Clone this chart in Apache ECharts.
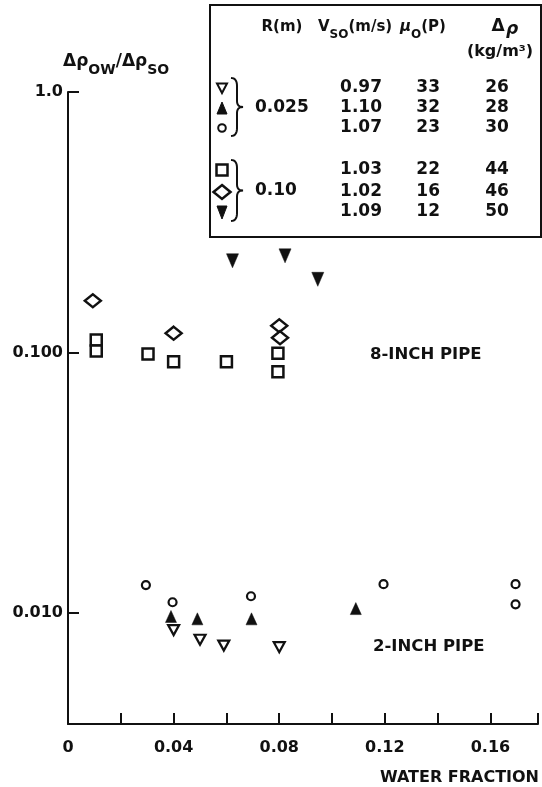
<!DOCTYPE html>
<html>
<head>
<meta charset="utf-8">
<script src="https://cdn.jsdelivr.net/npm/echarts@6/dist/echarts.min.js"></script>
<style>
  html, body { margin: 0; padding: 0; background: #fff; }
  #chart { width: 542px; height: 787px; }
</style>
</head>
<body>
<div id="chart"></div>
<script>
// ---- data ----
// R = 0.025 m (2-inch pipe)
const hollowDownX = [0.040, 0.050, 0.059, 0.080];
const hollowDownY = [0.0086, 0.0079, 0.0075, 0.0074];
const filledUpX = [0.039, 0.049, 0.0695, 0.109];
const filledUpY = [0.0097, 0.0095, 0.0095, 0.0104];
const circleX = [0.0295, 0.0396, 0.0693, 0.1195, 0.1695, 0.1695];
const circleY = [0.0128, 0.0110, 0.0116, 0.0129, 0.0129, 0.0108];
// R = 0.10 m (8-inch pipe)
const squareX = [0.0107, 0.0107, 0.0303, 0.040, 0.060, 0.0795, 0.0795];
const squareY = [0.1117, 0.1013, 0.0987, 0.0922, 0.0922, 0.0993, 0.0844];
const diamondX = [0.0094, 0.040, 0.080, 0.0803];
const diamondY = [0.158, 0.1186, 0.1267, 0.114];
const filledDownX = [0.0623, 0.0822, 0.0946];
const filledDownY = [0.225, 0.235, 0.191];

// legend table
const tableR = ['0.025', '0.10'];
const tableV = ['0.97', '1.10', '1.07', '1.03', '1.02', '1.09'];
const tableMu = ['33', '32', '23', '22', '16', '12'];
const tableRho = ['26', '28', '30', '44', '46', '50'];

// axes
const xTickLabels = ['0', '0.04', '0.08', '0.12', '0.16'];
const yTickValues = [0.01, 0.1, 1];
const yTickLabels = ['0.010', '0.100', '1.0'];

const FONT = '"DejaVu Sans", sans-serif';
const INK = '#111';

function pairs(xs, ys) { return xs.map((x, i) => [x, ys[i]]); }

const chart = echarts.init(document.getElementById('chart'), null, { renderer: 'canvas' });

const measureCtx = document.createElement('canvas').getContext('2d');
function textWidth(t, size, weight) {
  measureCtx.font = (weight || 'bold') + ' ' + size + 'px ' + FONT;
  return measureCtx.measureText(t).width;
}
function txt(text, x, y, size, opts) {
  opts = opts || {};
  const weight = opts.weight || 'bold';
  return {
    type: 'text', z: 100,
    style: {
      text: text, x: x, y: y,
      font: (opts.italic ? 'italic ' : '') + weight + ' ' + size + 'px ' + FONT,
      fill: INK,
      align: opts.align || 'left', textAlign: opts.align || 'left',
      verticalAlign: 'middle', textVerticalAlign: 'middle'
    }
  };
}
// lays out a run of [text, isSubscript, italic] pieces from x
function subRun(parts, x, y, size, subSize) {
  const out = [];
  let cx = x;
  parts.forEach(p => {
    const s = p[1] ? subSize : size;
    out.push(txt(p[0], cx, p[1] ? y + 8 : y, s, { italic: p[2] }));
    cx += textWidth(p[0], s);
  });
  return out;
}

// table symbol shapes
function symbolEl(kind, cx, cy) {
  const st = { fill: '#fff', stroke: INK, lineWidth: 2 };
  const fl = { fill: INK, stroke: INK, lineWidth: 1 };
  if (kind === 'hollowDown') return { type: 'polygon', z: 100, shape: { points: [[cx - 5, cy - 4.5], [cx + 5, cy - 4.5], [cx, cy + 5]] }, style: st };
  if (kind === 'filledUp') return { type: 'polygon', z: 100, shape: { points: [[cx, cy - 6], [cx + 5, cy + 6], [cx - 5, cy + 6]] }, style: fl };
  if (kind === 'circle') return { type: 'circle', z: 100, shape: { cx: cx, cy: cy, r: 3.8 }, style: st };
  if (kind === 'square') return { type: 'rect', z: 100, shape: { x: cx - 5.5, y: cy - 5.5, width: 11, height: 11 }, style: Object.assign({}, st, { lineWidth: 2.5 }) };
  if (kind === 'diamond') return { type: 'polygon', z: 100, shape: { points: [[cx, cy - 7], [cx + 8.5, cy], [cx, cy + 7], [cx - 8.5, cy]] }, style: Object.assign({}, st, { lineWidth: 2.5 }) };
  return { type: 'polygon', z: 100, shape: { points: [[cx - 5, cy - 6], [cx + 5, cy - 6], [cx, cy + 7]] }, style: fl };
}
// curly brace as a sampled polyline of quadratic segments
function quad(p0, p1, p2, n) {
  const pts = [];
  for (let i = 0; i <= n; i++) {
    const t = i / n, u = 1 - t;
    pts.push([u * u * p0[0] + 2 * u * t * p1[0] + t * t * p2[0], u * u * p0[1] + 2 * u * t * p1[1] + t * t * p2[1]]);
  }
  return pts;
}
function brace(x, y0, y1) {
  const m = (y0 + y1) / 2, a = x + 6, t = x + 12;
  const pts = [].concat(
    quad([x, y0], [a, y0], [a, y0 + 8], 8),
    quad([a, m - 6], [a, m], [t, m], 6),
    quad([t, m], [a, m], [a, m + 6], 6),
    quad([a, y1 - 8], [a, y1], [x, y1], 8)
  );
  return { type: 'polyline', z: 100, shape: { points: pts }, style: { fill: null, stroke: INK, lineWidth: 2 } };
}

const rowY = [88, 108, 128, 170, 192, 212];
const rowKinds = ['hollowDown', 'filledUp', 'circle', 'square', 'diamond', 'filledDown'];

const graphics = [];
// table frame
graphics.push({ type: 'rect', z: 99, shape: { x: 210, y: 5, width: 331, height: 232 },
  style: { fill: '#fff', stroke: INK, lineWidth: 2 } });
// header
graphics.push(txt('R(m)', 282, 27, 15, { align: 'center' }));
graphics.push(...subRun([['V', false], ['SO', true], ['(m/s)', false]], 318, 27, 15, 12));
graphics.push(...subRun([['μ', false, true], ['O', true], ['(P)', false]], 400, 27, 15, 12));
graphics.push(txt('Δ', 498, 27, 17, { align: 'center' }));
graphics.push(txt('ρ', 512, 30, 17, { align: 'center', italic: true }));
graphics.push(txt('(kg/m³)', 500, 52, 16, { align: 'center' }));
// rows
rowY.forEach((y, i) => {
  graphics.push(symbolEl(rowKinds[i], 222, y));
  graphics.push(txt(tableV[i], 382, y, 17, { align: 'right' }));
  graphics.push(txt(tableMu[i], 440, y, 17, { align: 'right' }));
  graphics.push(txt(tableRho[i], 497, y, 17, { align: 'center' }));
});
graphics.push(brace(231, 78, 136));
graphics.push(brace(231, 160, 221));
graphics.push(txt(tableR[0], 255, 108, 17));
graphics.push(txt(tableR[1], 255, 191, 17));

// y-axis title
graphics.push(...subRun([['Δρ', false], ['OW', true], ['/', false], ['Δρ', false], ['SO', true]], 63, 62, 17, 14));
// pipe labels and x title
graphics.push(txt('8-INCH PIPE', 370, 355, 16.5));
graphics.push(txt('2-INCH PIPE', 373, 647, 16.5));
graphics.push(txt('WATER FRACTION', 539, 778, 16, { align: 'right' }));

function scatter(name, data, symbol, size, rotate, filled, bw) {
  return {
    name: name, type: 'scatter', data: data, symbol: symbol, symbolSize: size, symbolRotate: rotate,
    itemStyle: { color: filled ? INK : '#fff', borderColor: INK, borderWidth: bw, opacity: 1 },
    emphasis: { disabled: true }, z: 5
  };
}

const option = {
  backgroundColor: '#fff',
  animation: false,
  grid: { left: 68, right: 4, top: 92, bottom: 63, containLabel: false },
  xAxis: {
    type: 'value', min: 0, max: 0.178, interval: 0.02,
    axisLine: { show: true, onZero: false, lineStyle: { color: INK, width: 2 } },
    axisTick: { show: true, inside: true, length: 11, lineStyle: { color: INK, width: 2 } },
    splitLine: { show: false },
    axisLabel: {
      margin: 16, color: INK, fontFamily: FONT, fontSize: 16, fontWeight: 'bold',
      showMaxLabel: true,
      formatter: v => {
        const k = Math.round(v / 0.04);
        if (Math.abs(v - k * 0.04) > 1e-6) return '';
        return xTickLabels[k] || '';
      }
    }
  },
  yAxis: {
    type: 'log', logBase: 10, min: 0.00375, max: 1,
    axisLine: { show: true, onZero: false, lineStyle: { color: INK, width: 2 } },
    axisTick: { show: true, inside: true, length: 11, lineStyle: { color: INK, width: 2 } },
    splitLine: { show: false }, minorTick: { show: false },
    axisLabel: {
      margin: 5, color: INK, fontFamily: FONT, fontSize: 16, fontWeight: 'bold',
      showMinLabel: false,
      formatter: v => {
        for (let i = 0; i < yTickValues.length; i++) {
          if (Math.abs(Math.log10(v) - Math.log10(yTickValues[i])) < 1e-6) return yTickLabels[i];
        }
        return '';
      }
    }
  },
  series: [
    scatter('hollowDown', pairs(hollowDownX, hollowDownY), 'triangle', [11, 10], 180, false, 2.2),
    scatter('filledUp', pairs(filledUpX, filledUpY), 'triangle', [11, 12], 0, true, 0.5),
    scatter('circle', pairs(circleX, circleY), 'circle', 8, 0, false, 2.2),
    scatter('square', pairs(squareX, squareY), 'rect', 11, 0, false, 2.5),
    scatter('diamond', pairs(diamondX, diamondY), 'diamond', [16, 13], 0, false, 2.5),
    scatter('filledDown', pairs(filledDownX, filledDownY), 'triangle', [12, 14], 180, true, 0.5)
  ],
  graphic: { elements: graphics }
};
chart.setOption(option);
</script>
</body>
</html>
